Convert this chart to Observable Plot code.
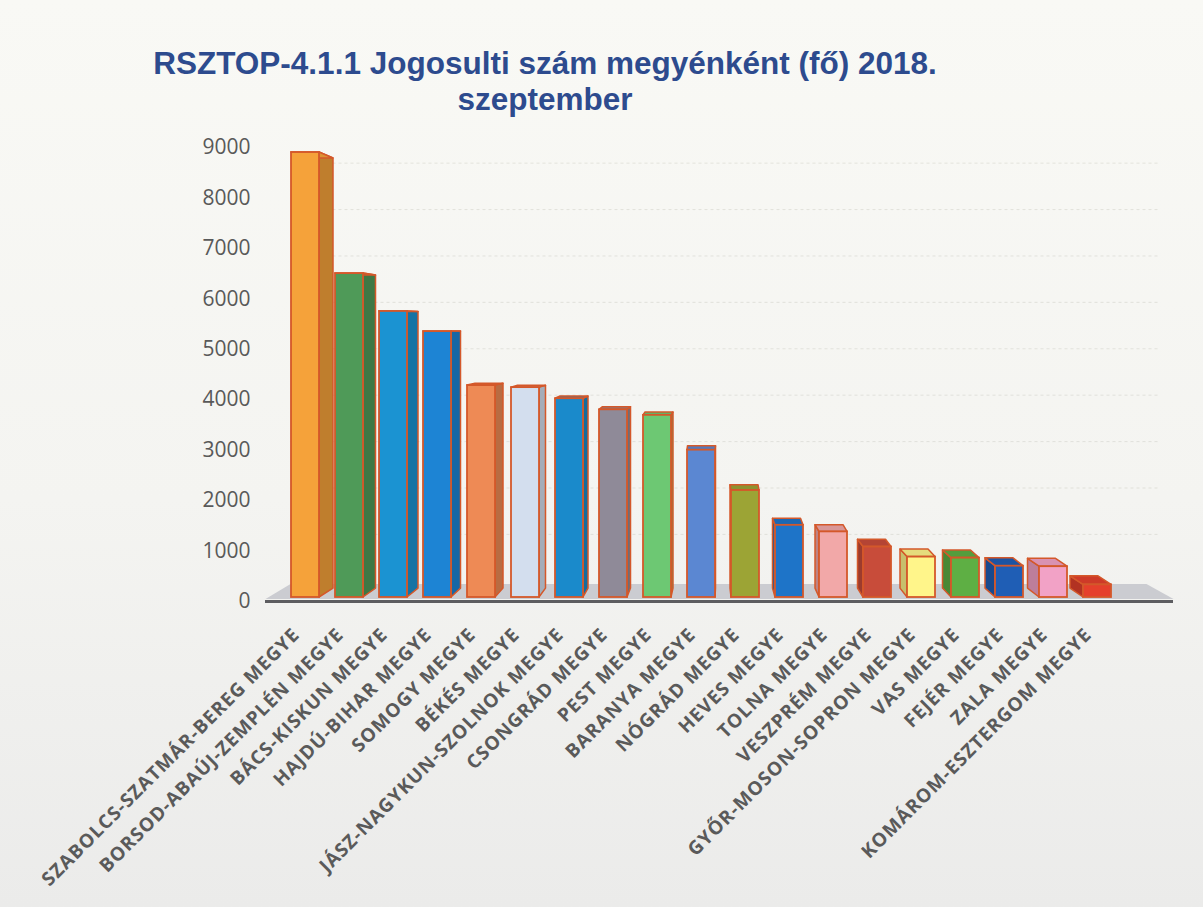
<!DOCTYPE html>
<html><head><meta charset="utf-8">
<script src="https://cdn.jsdelivr.net/npm/d3@7"></script>
<script src="https://cdn.jsdelivr.net/npm/@observablehq/plot@0.6"></script>
<style>
html,body{margin:0;padding:0;}
body{width:1203px;height:907px;overflow:hidden;background:linear-gradient(180deg,#f9f9f5 0%,#f4f4f1 55%,#ebebea 100%);}
#wrap{position:relative;width:1203px;height:907px;}
#chart{position:absolute;left:0;top:0;}
#title{position:absolute;left:0;top:45px;width:1090px;text-align:center;font-family:"Liberation Sans",Arial,sans-serif;font-weight:bold;font-size:31.5px;line-height:36px;color:#2D4B8E;}
</style></head><body>
<div id="wrap"><div id="chart"></div><div id="title">RSZTOP-4.1.1 Jogosulti szám megyénként (fő) 2018.<br>szeptember</div></div>
<script>
const counties = [
  "SZABOLCS-SZATMÁR-BEREG MEGYE","BORSOD-ABAÚJ-ZEMPLÉN MEGYE","BÁCS-KISKUN MEGYE","HAJDÚ-BIHAR MEGYE",
  "SOMOGY MEGYE","BÉKÉS MEGYE","JÁSZ-NAGYKUN-SZOLNOK MEGYE","CSONGRÁD MEGYE","PEST MEGYE","BARANYA MEGYE",
  "NÓGRÁD MEGYE","HEVES MEGYE","TOLNA MEGYE","VESZPRÉM MEGYE","GYŐR-MOSON-SOPRON MEGYE","VAS MEGYE",
  "FEJÉR MEGYE","ZALA MEGYE","KOMÁROM-ESZTERGOM MEGYE"
];
const values = [8900, 6500, 5750, 5350, 4280, 4240, 4020, 3800, 3690, 3000, 2200, 1510, 1380, 1080, 880, 860, 700, 690, 330];
const colors = ["#F5A23A","#4F9A58","#1B93D2","#1D84D4","#EE8A55","#D3DEEE","#1A8ACB","#8F8A98","#6DC873","#5B87D2",
  "#9CA435","#1E74C8","#F2A8A8","#C84C3A","#FFF58A","#5EAF44","#1F5EB5","#F2A2C6","#E5402C"];
const yTicks = [0,1000,2000,3000,4000,5000,6000,7000,8000,9000];

const rows = counties.map((name, i) => ({name, value: values[i], color: colors[i], i}));
const edge = "#D4582A";

function scene(index, scales, vals, dims) {
  const x = scales.x, y = scales.y;
  const step = x(counties[1]) - x(counties[0]);
  const bw = typeof x.bandwidth === "function" ? x.bandwidth() : (x.bandwidth != null ? x.bandwidth : step * 0.63);
  const y0 = y(0);
  const left = dims.marginLeft, right = dims.width - dims.marginRight;
  const g = d3.create("svg:g");
  const hz = y(5000);
  for (const v of yTicks.slice(1)) {
    const yy = y(v) - 0.08 * (y(v) - hz);
    g.append("line").attr("x1", left + 8).attr("x2", right + 40).attr("y1", yy).attr("y2", yy)
      .attr("stroke", "#c4c4b8").attr("stroke-opacity", 0.4).attr("stroke-dasharray", "3,3");
  }
  g.append("polygon")
    .attr("points", [[left + 8, y0 - 17], [right + 28, y0 - 17], [right + 55, y0 - 2], [left - 17, y0 - 2]].map(p => p.join(",")).join(" "))
    .attr("fill", "#cbccd1");
  const eye = y(5350);
  const B = y0 - 4;
  rows.forEach((d, i) => {
    const L = x(d.name), R = L + bw, T = y(d.value);
    const s = 14 - 1.5 * i;
    const uT = 0.0335 * (T - eye), uB = 0.0335 * (B - eye);
    const c = d3.color(d.color);
    const top = [[L, T], [R, T], [R + s, T - uT], [L + s, T - uT]];
    const side = s > 0 ? [[R, T], [R + s, T - uT], [R + s, B - uB], [R, B]]
                       : [[L, T], [L + s, T - uT], [L + s, B - uB], [L, B]];
    g.append("polygon").attr("points", side.map(p => p.join(",")).join(" "))
      .attr("fill", c.darker(0.7)).attr("stroke", edge).attr("stroke-width", 1.5).attr("stroke-linejoin", "round");
    g.append("polygon").attr("points", top.map(p => p.join(",")).join(" "))
      .attr("fill", c.darker(0.3)).attr("stroke", edge).attr("stroke-width", 1.5).attr("stroke-linejoin", "round");
  });
  return g.node();
}

const chart = Plot.plot({
  width: 1203,
  height: 907,
  marginTop: 147,
  marginBottom: 306,
  marginLeft: 282.5,
  marginRight: 84.5,
  style: {background: "transparent", overflow: "visible"},
  x: {domain: counties, paddingInner: 0.37, paddingOuter: 0.185, axis: null},
  y: {domain: [0, 9000], axis: null},
  color: {type: "identity"},
  marks: [
    scene,
    Plot.barY(rows, {x: "name", y: "value", fill: "color", stroke: edge, strokeWidth: 1.8, insetBottom: 4}),
    Plot.ruleY([0], {stroke: "#5d5d60", strokeWidth: 3, insetLeft: -17.5, insetRight: -54.5}),
    Plot.text(yTicks, {y: d => d, text: d => String(d), frameAnchor: "left", textAnchor: "end", dx: -32.5,
      fontSize: 21, fill: "#595959", fontFamily: "Open Sans"}),
    Plot.text(rows, {x: "name", y: () => 0, text: "name", rotate: -45, textAnchor: "end", dx: -9, dy: 30,
      fontSize: 19, fontWeight: "bold", fill: "#5a5a5a", fontFamily: "Open Sans"})
  ]
});
// widen the category labels slightly (letter spacing)
const nameSet = new Set(counties);
d3.select(chart).selectAll("text").filter(function() { return nameSet.has(this.textContent); })
  .style("letter-spacing", "1px");
document.getElementById("chart").appendChild(chart);
</script>
</body></html>
